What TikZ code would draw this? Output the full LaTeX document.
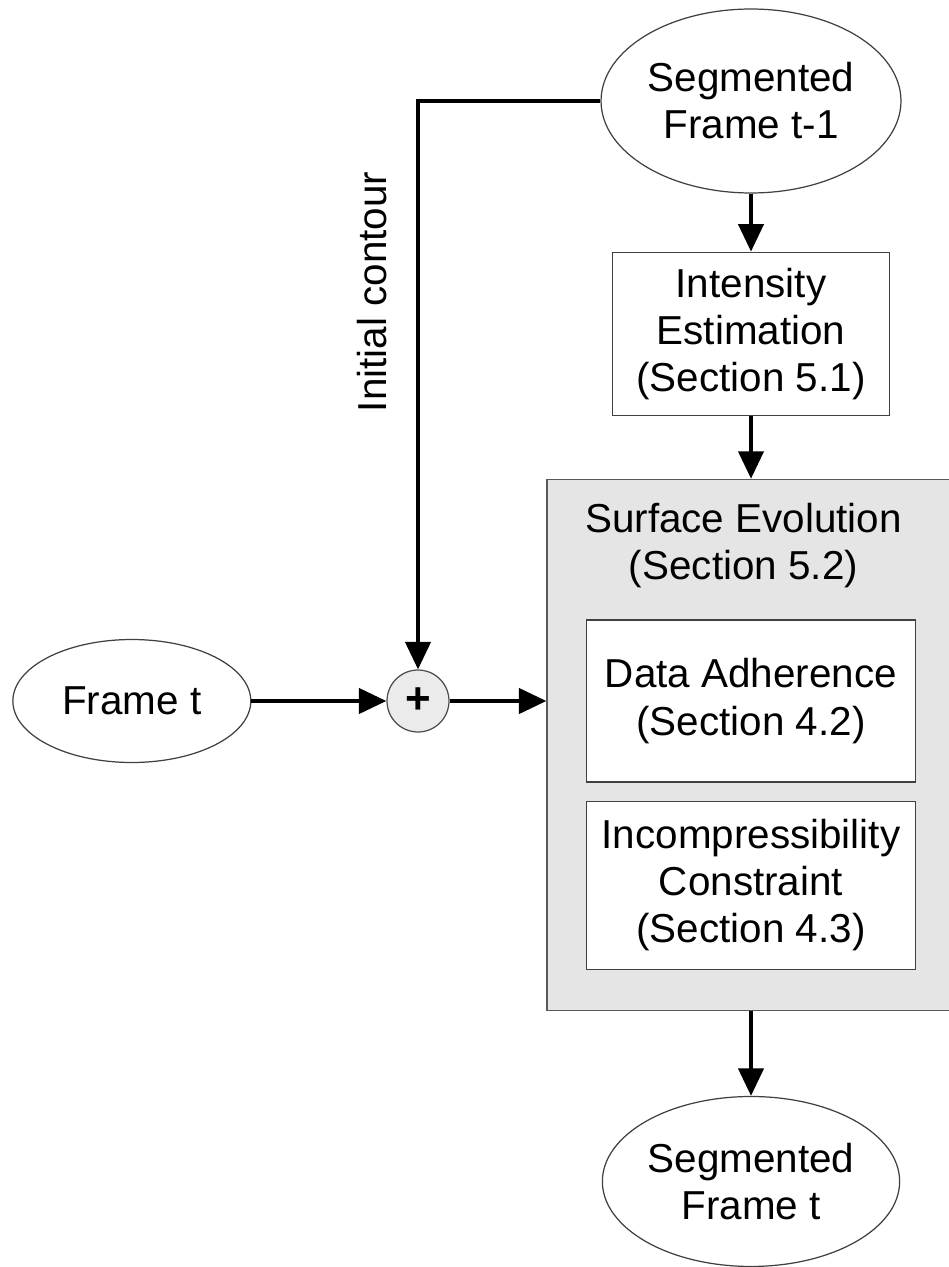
\documentclass[tikz,border=0pt]{standalone}
\usepackage{fontspec}
\setmainfont{Liberation Sans}
\usetikzlibrary{arrows.meta,positioning,shapes.geometric}

\begin{document}
\begin{tikzpicture}[
    x = 0.02cm, y = -0.02cm, % one unit per pixel, y going down
    > = {Triangle[length=0.55cm,width=0.5cm]}, % arrow head style
    node distance = 1.2cm, % distance between nodes
    line width = 2.4pt, % line style
    font = \fontsize{23pt}{26.8pt}\selectfont
    ]

    \tikzset{
    every node/.style = {align = center, line width = 0.7pt},
    blob/.style = {ellipse, draw = black!75, fill = white, inner sep = 1pt},
    block/.style = {rectangle, draw = black!75, fill = white},
    greybox/.style = {rectangle, draw = black!65, fill = black!10},
    adder/.style = {circle, draw = black!70, fill = black!8,
        minimum size = 1.24cm, inner sep = 0pt}
    }
    \useasboundingbox (0,0) rectangle (949,1267);

    \node[blob, minimum width = 6cm, minimum height = 3.68cm] (prev) at (751,101) {Segmented\\Frame t-1};
    \node[block, minimum width = 5.54cm, minimum height = 3.26cm] (est) [below=1.16cm of prev] {Intensity\\Estimation\\(Section 5.1)};
    \node[greybox, minimum width = 8.16cm, minimum height = 10.62cm] (evol) [below=1.26cm of est] {};
    \node (evoltitle) at ([xshift=-0.15cm,yshift=-1.34cm]evol.north) {Surface Evolution\\(Section 5.2)};
    \node[blob, minimum width = 5.92cm, minimum height = 3.4cm] (out) [below=1.7cm of evol] {Segmented\\Frame t};

    \node[adder] (sum) at (418,701) {\fontsize{25pt}{25pt}\selectfont\bfseries +};
    \node[blob, minimum width = 4.76cm, minimum height = 2.46cm] (frame) [left=2.7cm of sum] {Frame t};

    \node[block, minimum width = 6.58cm, minimum height = 3.24cm] (data) at (sum -| evol) {Data Adherence\\(Section 4.2)};
    \node[block, minimum width = 6.58cm, minimum height = 3.36cm] (incomp) [below=0.36cm of data] {Incompressibility\\Constraint\\(Section 4.3)};

    \node[rotate=90] (hint) at (372,292) {Initial contour};

    \path[->] (prev) edge (est);
    \path[->] (est) edge (evol);
    \path[->] (evol) edge (out);
    \path[->] (frame) edge (sum);
    \path[->] (sum) edge (sum -| evol.west);
    \draw[->] (prev) -| (sum);
\end{tikzpicture}
\end{document}
